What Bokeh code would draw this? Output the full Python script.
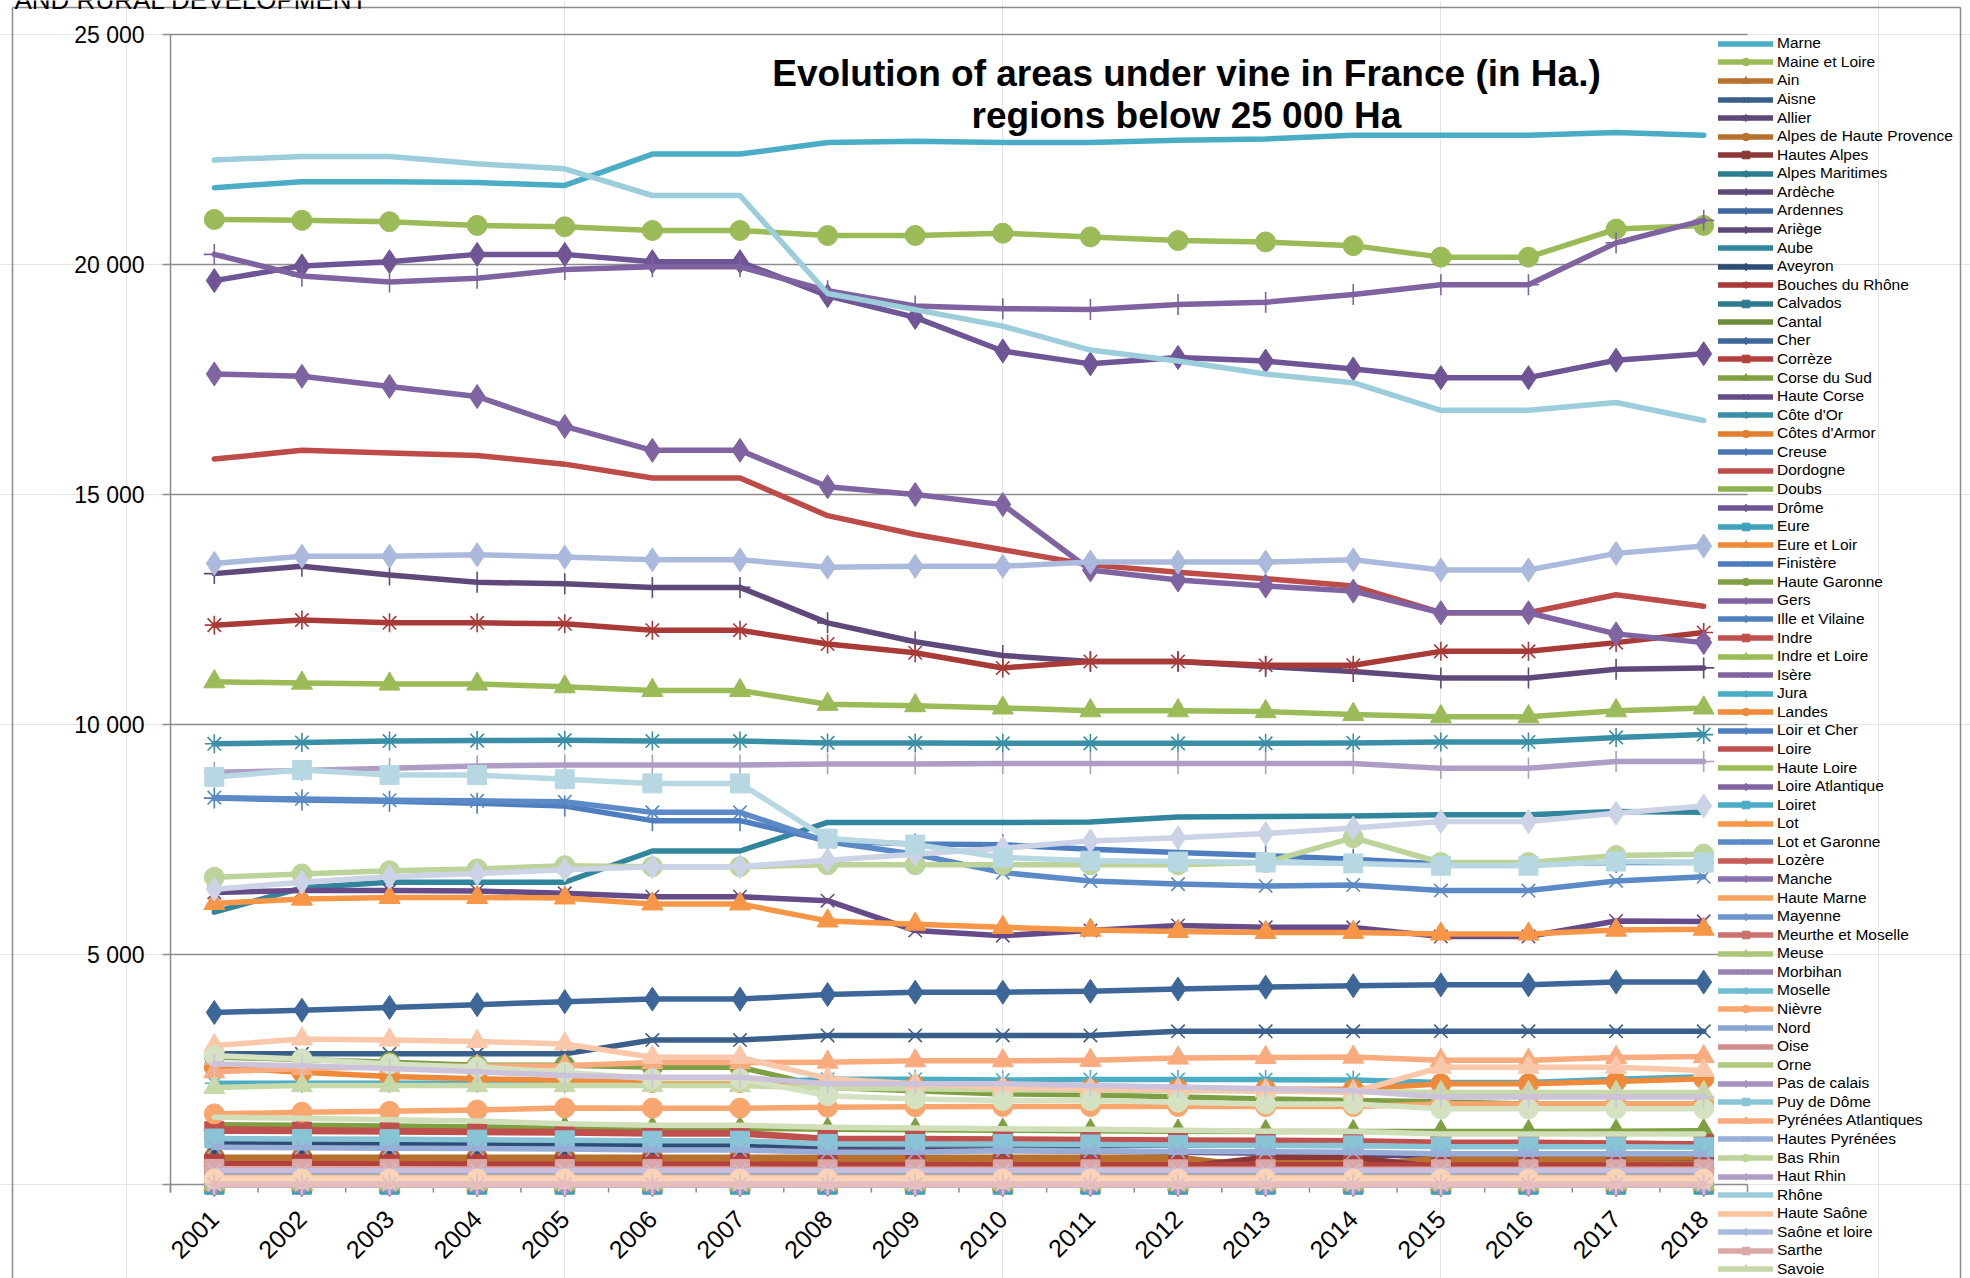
from math import pi
from bokeh.plotting import figure
from bokeh.models import Range1d, Legend, LegendItem, Label
from bokeh.core.properties import value
from bokeh.embed import file_html
from bokeh.resources import INLINE

# ---------------- data ----------------
years = [2001, 2002, 2003, 2004, 2005, 2006, 2007, 2008, 2009, 2010, 2011, 2012, 2013, 2014, 2015, 2016, 2017, 2018]
ytick_values = [0, 5000, 10000, 15000, 20000, 25000]
ytick_labels = ["", "5 000", "10 000", "15 000", "20 000", "25 000"]
title_line1 = "Evolution of areas under vine in France (in Ha.)"
title_line2 = "regions below 25 000 Ha"
header_text = "AND RURAL DEVELOPMENT"

marne = [21670, 21800, 21800, 21780, 21720, 22400, 22400, 22650, 22680, 22650, 22650, 22700, 22730, 22810, 22810, 22810, 22870, 22810]
maine_et_loire = [20980, 20960, 20930, 20850, 20820, 20740, 20740, 20630, 20630, 20680, 20600, 20520, 20490, 20410, 20160, 20160, 20770, 20850]
ain = [520, 515, 510, 505, 500, 500, 500, 495, 495, 490, 490, 490, 485, 485, 480, 480, 480, 480]
aisne = [2840, 2840, 2840, 2840, 2840, 3140, 3140, 3240, 3240, 3240, 3240, 3330, 3330, 3330, 3330, 3330, 3330, 3330]
allier = [900, 890, 880, 870, 860, 850, 850, 760, 740, 740, 730, 700, 680, 660, 600, 600, 590, 580]
alpes_de_haute_provence = [595, 595, 595, 595, 595, 595, 595, 595, 595, 595, 595, 595, 376, 376, 595, 595, 595, 595]
hautes_alpes = [376, 376, 376, 376, 376, 376, 376, 376, 376, 376, 376, 376, 593, 593, 376, 376, 376, 376]
alpes_maritimes = [50, 50, 50, 50, 50, 50, 50, 50, 50, 50, 50, 50, 50, 50, 50, 50, 50, 50]
ardeche = [13280, 13440, 13250, 13090, 13060, 12980, 12980, 12210, 11800, 11500, 11370, 11370, 11260, 11150, 11010, 11010, 11200, 11230]
ardennes = [0, 0, 0, 0, 0, 0, 0, 0, 0, 0, 0, 0, 0, 0, 0, 0, 0, 0]
ariege = [90, 90, 90, 90, 90, 90, 90, 90, 90, 90, 90, 90, 90, 90, 90, 90, 90, 90]
aube = [5920, 6450, 6570, 6570, 6570, 7250, 7250, 7870, 7870, 7870, 7880, 7990, 8000, 8010, 8040, 8040, 8110, 8090]
aveyron = [880, 880, 875, 870, 870, 865, 865, 860, 860, 860, 855, 855, 855, 850, 850, 850, 850, 850]
bouches_du_rhone = [12160, 12270, 12210, 12210, 12190, 12050, 12050, 11750, 11560, 11230, 11370, 11370, 11290, 11290, 11590, 11590, 11780, 12000]
calvados = [0, 0, 0, 0, 0, 0, 0, 0, 0, 0, 0, 0, 0, 0, 0, 0, 0, 0]
cantal = [0, 0, 0, 0, 0, 0, 0, 0, 0, 0, 0, 0, 0, 0, 0, 0, 0, 0]
cher = [3740, 3790, 3850, 3910, 3975, 4030, 4030, 4130, 4180, 4180, 4200, 4250, 4290, 4320, 4340, 4340, 4400, 4400]
correze = [450, 450, 445, 445, 440, 440, 440, 435, 435, 430, 430, 430, 430, 430, 425, 425, 425, 425]
corse_du_sud = [1300, 1290, 1270, 1250, 1230, 1220, 1220, 1200, 1190, 1180, 1170, 1160, 1150, 1150, 1150, 1150, 1160, 1170]
haute_corse = [6350, 6390, 6390, 6380, 6330, 6255, 6255, 6170, 5520, 5410, 5520, 5630, 5590, 5590, 5390, 5390, 5730, 5720]
cote_d_or = [9580, 9610, 9640, 9650, 9660, 9640, 9640, 9600, 9600, 9590, 9590, 9590, 9590, 9600, 9620, 9620, 9720, 9780]
cotes_d_armor = [0, 0, 0, 0, 0, 0, 0, 0, 0, 0, 0, 0, 0, 0, 0, 0, 0, 0]
creuse = [0, 0, 0, 0, 0, 0, 0, 0, 0, 0, 0, 0, 0, 0, 0, 0, 0, 0]
dordogne = [15770, 15960, 15900, 15850, 15660, 15360, 15360, 14540, 14130, 13800, 13470, 13310, 13170, 13010, 12430, 12430, 12820, 12570]
doubs = [20, 20, 20, 20, 20, 20, 20, 20, 20, 20, 20, 20, 20, 20, 20, 20, 20, 20]
drome = [19650, 19970, 20060, 20220, 20220, 20060, 20060, 19320, 18850, 18120, 17840, 17980, 17900, 17730, 17540, 17540, 17920, 18060]
eure = [0, 0, 0, 0, 0, 0, 0, 0, 0, 0, 0, 0, 0, 0, 0, 0, 0, 0]
eure_et_loir = [0, 0, 0, 0, 0, 0, 0, 0, 0, 0, 0, 0, 0, 0, 0, 0, 0, 0]
finistere = [0, 0, 0, 0, 0, 0, 0, 0, 0, 0, 0, 0, 0, 0, 0, 0, 0, 0]
haute_garonne = [2770, 2720, 2660, 2590, 2590, 2550, 2550, 2110, 2040, 1970, 1950, 1900, 1860, 1825, 1800, 1750, 1750, 1750]
gers = [20220, 19750, 19620, 19700, 19890, 19950, 19950, 19430, 19100, 19040, 19020, 19130, 19180, 19350, 19560, 19560, 20470, 20960]
ille_et_vilaine = [0, 0, 0, 0, 0, 0, 0, 0, 0, 0, 0, 0, 0, 0, 0, 0, 0, 0]
indre = [1160, 1150, 1140, 1130, 1120, 1100, 1100, 980, 975, 970, 960, 950, 940, 930, 900, 900, 890, 880]
indre_et_loire = [10930, 10900, 10880, 10880, 10820, 10740, 10740, 10440, 10410, 10360, 10300, 10300, 10280, 10220, 10170, 10170, 10300, 10360]
isere = [240, 240, 235, 235, 230, 230, 230, 225, 225, 225, 220, 220, 220, 220, 215, 215, 215, 215]
jura = [2200, 2200, 2200, 2200, 2200, 2200, 2200, 2290, 2290, 2270, 2280, 2280, 2280, 2270, 2220, 2220, 2290, 2340]
landes = [2550, 2440, 2350, 2300, 2260, 2220, 2220, 2200, 2150, 2080, 2080, 2080, 2070, 2070, 2190, 2190, 2240, 2300]
loir_et_cher = [8400, 8360, 8330, 8290, 8230, 7910, 7910, 7470, 7400, 7385, 7290, 7220, 7150, 7070, 6970, 6970, 7000, 7000]
loire = [1210, 1190, 1175, 1160, 1150, 1130, 1130, 1000, 1000, 990, 980, 970, 960, 950, 920, 920, 900, 880]
haute_loire = [10, 10, 10, 10, 10, 10, 10, 10, 10, 10, 10, 10, 10, 10, 10, 10, 10, 10]
loire_atlantique = [17620, 17570, 17350, 17130, 16480, 15960, 15960, 15170, 15000, 14780, 13360, 13140, 13010, 12900, 12430, 12430, 11970, 11780]
loiret = [180, 180, 180, 180, 180, 180, 180, 180, 180, 180, 180, 180, 180, 180, 180, 180, 180, 180]
lot = [6110, 6205, 6240, 6240, 6230, 6100, 6100, 5730, 5660, 5590, 5530, 5500, 5480, 5480, 5445, 5445, 5530, 5550]
lot_et_garonne = [8410, 8380, 8355, 8340, 8320, 8090, 8090, 7450, 7180, 6780, 6600, 6530, 6490, 6510, 6390, 6390, 6600, 6690]
lozere = [20, 20, 20, 20, 20, 20, 20, 20, 20, 20, 20, 20, 20, 20, 20, 20, 20, 20]
manche = [0, 0, 0, 0, 0, 0, 0, 0, 0, 0, 0, 0, 0, 0, 0, 0, 0, 0]
haute_marne = [50, 50, 50, 50, 50, 50, 50, 50, 50, 50, 50, 50, 50, 50, 50, 50, 50, 50]
mayenne = [0, 0, 0, 0, 0, 0, 0, 0, 0, 0, 0, 0, 0, 0, 0, 0, 0, 0]
meurthe_et_moselle = [110, 110, 110, 110, 110, 110, 110, 110, 110, 110, 110, 110, 110, 110, 110, 110, 110, 110]
meuse = [30, 30, 30, 30, 30, 30, 30, 30, 30, 30, 30, 30, 30, 30, 30, 30, 30, 30]
morbihan = [0, 0, 0, 0, 0, 0, 0, 0, 0, 0, 0, 0, 0, 0, 0, 0, 0, 0]
moselle = [60, 60, 60, 60, 60, 60, 60, 60, 60, 60, 60, 60, 60, 60, 60, 60, 60, 60]
nievre = [1535, 1570, 1590, 1620, 1665, 1660, 1660, 1680, 1690, 1695, 1695, 1695, 1695, 1695, 1750, 1750, 1750, 1750]
nord = [0, 0, 0, 0, 0, 0, 0, 0, 0, 0, 0, 0, 0, 0, 0, 0, 0, 0]
oise = [0, 0, 0, 0, 0, 0, 0, 0, 0, 0, 0, 0, 0, 0, 0, 0, 0, 0]
orne = [0, 0, 0, 0, 0, 0, 0, 0, 0, 0, 0, 0, 0, 0, 0, 0, 0, 0]
pas_de_calais = [0, 0, 0, 0, 0, 0, 0, 0, 0, 0, 0, 0, 0, 0, 0, 0, 0, 0]
puy_de_dome = [1000, 990, 985, 975, 960, 950, 950, 880, 880, 880, 870, 860, 850, 850, 820, 820, 820, 810]
pyrenees_atlantiques = [2450, 2520, 2560, 2570, 2580, 2650, 2650, 2660, 2690, 2690, 2700, 2750, 2760, 2770, 2700, 2700, 2760, 2780]
hautes_pyrenees = [810, 800, 790, 780, 770, 750, 750, 700, 700, 740, 730, 720, 710, 700, 670, 670, 670, 670]
bas_rhin = [6680, 6750, 6820, 6860, 6930, 6910, 6910, 6950, 6950, 6950, 6950, 6950, 7000, 7540, 7000, 7000, 7150, 7180]
haut_rhin = [8960, 9000, 9050, 9100, 9120, 9120, 9120, 9140, 9140, 9150, 9150, 9150, 9150, 9150, 9050, 9050, 9195, 9195]
rhone = [22270, 22350, 22350, 22190, 22080, 21500, 21500, 19370, 19020, 18660, 18140, 17900, 17620, 17430, 16830, 16830, 17000, 16610]
haute_saone = [160, 160, 160, 160, 160, 160, 160, 160, 160, 160, 160, 160, 160, 160, 160, 160, 160, 160]
saone_et_loire = [13500, 13660, 13660, 13690, 13640, 13580, 13580, 13420, 13440, 13440, 13530, 13530, 13530, 13580, 13360, 13360, 13720, 13880]
sarthe = [340, 340, 340, 335, 335, 335, 335, 330, 330, 330, 330, 330, 330, 330, 330, 330, 330, 330]
savoie = [2110, 2150, 2150, 2150, 2150, 2150, 2150, 2100, 2080, 2060, 2050, 2040, 2030, 2020, 2000, 2000, 2000, 2000]
# series whose legend entries fall below the visible part of the legend
haute_savoie = [300, 300, 300, 300, 300, 300, 300, 300, 300, 300, 300, 300, 300, 300, 300, 300, 300, 300]
seine_et_marne = [40, 40, 40, 40, 40, 40, 40, 40, 40, 40, 40, 40, 40, 40, 40, 40, 40, 40]
deux_sevres = [120, 120, 120, 120, 120, 120, 120, 120, 120, 120, 120, 120, 120, 120, 120, 120, 120, 120]
somme = [0, 0, 0, 0, 0, 0, 0, 0, 0, 0, 0, 0, 0, 0, 0, 0, 0, 0]
vosges = [0, 0, 0, 0, 0, 0, 0, 0, 0, 0, 0, 0, 0, 0, 0, 0, 0, 0]
tarn_et_garonne = [1460, 1440, 1410, 1380, 1320, 1290, 1290, 1245, 1230, 1210, 1200, 1180, 1160, 1150, 1100, 1100, 1100, 1100]
yonne = [6420, 6570, 6690, 6760, 6840, 6910, 6910, 7050, 7180, 7310, 7470, 7540, 7630, 7750, 7890, 7890, 8070, 8230]
tarn = [8860, 9010, 8900, 8900, 8810, 8720, 8720, 7520, 7390, 7110, 7040, 7020, 7000, 6980, 6930, 6930, 7020, 7000]
vendee = [3020, 3165, 3140, 3110, 3055, 2765, 2765, 2300, 2190, 2110, 2080, 2060, 2040, 2000, 2550, 2550, 2550, 2480]
haute_vienne = [0, 0, 0, 0, 0, 0, 0, 0, 0, 0, 0, 0, 0, 0, 0, 0, 0, 0]
territoire_de_belfort = [0, 0, 0, 0, 0, 0, 0, 0, 0, 0, 0, 0, 0, 0, 0, 0, 0, 0]
vienne = [2800, 2730, 2620, 2550, 2440, 2300, 2300, 1930, 1860, 1825, 1825, 1790, 1750, 1750, 1645, 1645, 1645, 1645]
essonne = [2620, 2580, 2520, 2450, 2370, 2330, 2330, 2190, 2190, 2190, 2150, 2120, 2080, 2040, 1900, 1900, 1900, 1900]

# (label, values, colour, marker, shown in legend)
table = [
    ("Marne", marne, "#4BACC6", None, True),
    ("Maine et Loire", maine_et_loire, "#9BBB59", "circle", True),
    ("Ain", ain, "#B9712F", "triangle", True),
    ("Aisne", aisne, "#3A5F8B", "x", True),
    ("Allier", allier, "#5F4879", "asterisk", True),
    ("Alpes de Haute Provence", alpes_de_haute_provence, "#B8702F", "circle", True),
    ("Hautes Alpes", hautes_alpes, "#8C3836", "square", True),
    ("Alpes Maritimes", alpes_maritimes, "#2C7C8F", "asterisk", True),
    ("Ardèche", ardeche, "#5F497A", "cross", True),
    ("Ardennes", ardennes, "#3E67A0", "cross", True),
    ("Ariège", ariege, "#5F4879", "diamond", True),
    ("Aube", aube, "#31859C", None, True),
    ("Aveyron", aveyron, "#2C4D75", "diamond", True),
    ("Bouches du Rhône", bouches_du_rhone, "#A83A37", "asterisk", True),
    ("Calvados", calvados, "#2F7B8E", "square", True),
    ("Cantal", cantal, "#6F8C3A", None, True),
    ("Cher", cher, "#3D6699", "diamond", True),
    ("Corrèze", correze, "#B3403D", "square", True),
    ("Corse du Sud", corse_du_sud, "#7EA040", "triangle", True),
    ("Haute Corse", haute_corse, "#654C88", "x", True),
    ("Côte d'Or", cote_d_or, "#3A8FA6", "asterisk", True),
    ("Côtes d'Armor", cotes_d_armor, "#E27F2E", "circle", True),
    ("Creuse", creuse, "#4A77B4", "cross", True),
    ("Dordogne", dordogne, "#BD4B48", None, True),
    ("Doubs", doubs, "#8DB050", None, True),
    ("Drôme", drome, "#6F5496", "diamond", True),
    ("Eure", eure, "#3FA2BA", "square", True),
    ("Eure et Loir", eure_et_loir, "#EE8A3A", "triangle", True),
    ("Finistère", finistere, "#4D7DC0", "x", True),
    ("Haute Garonne", haute_garonne, "#7F9F45", "circle", True),
    ("Gers", gers, "#7F63A1", "cross", True),
    ("Ille et Vilaine", ille_et_vilaine, "#4F81BD", "diamond", True),
    ("Indre", indre, "#C0504D", "square", True),
    ("Indre et Loire", indre_et_loire, "#9BBB59", "triangle", True),
    ("Isère", isere, "#8064A2", "x", True),
    ("Jura", jura, "#4BACC6", "asterisk", True),
    ("Landes", landes, "#EE8A3A", "circle", True),
    ("Loir et Cher", loir_et_cher, "#4F7EC0", "cross", True),
    ("Loire", loire, "#C0504D", None, True),
    ("Haute Loire", haute_loire, "#9BBB59", None, True),
    ("Loire Atlantique", loire_atlantique, "#8064A2", "diamond", True),
    ("Loiret", loiret, "#4BACC6", "square", True),
    ("Lot", lot, "#F79646", "triangle", True),
    ("Lot et Garonne", lot_et_garonne, "#5B8AC6", "x", True),
    ("Lozère", lozere, "#C75B58", "asterisk", True),
    ("Manche", manche, "#8B70AE", "cross", True),
    ("Haute Marne", haute_marne, "#F9A25F", None, True),
    ("Mayenne", mayenne, "#7094CB", "diamond", True),
    ("Meurthe et Moselle", meurthe_et_moselle, "#CC716E", "square", True),
    ("Meuse", meuse, "#AAC677", "triangle", True),
    ("Morbihan", morbihan, "#9882B5", "x", True),
    ("Moselle", moselle, "#70BDD1", "asterisk", True),
    ("Nièvre", nievre, "#F9A66E", "circle", True),
    ("Nord", nord, "#88A4D3", "cross", True),
    ("Oise", oise, "#D08C8A", None, True),
    ("Orne", orne, "#AFC97F", None, True),
    ("Pas de calais", pas_de_calais, "#A692C0", "diamond", True),
    ("Puy de Dôme", puy_de_dome, "#89C4D6", "square", True),
    ("Pyrénées Atlantiques", pyrenees_atlantiques, "#FAAB7E", "triangle", True),
    ("Hautes Pyrénées", hautes_pyrenees, "#97AED8", "x", True),
    ("Bas Rhin", bas_rhin, "#BCD39A", "circle", True),
    ("Haut Rhin", haut_rhin, "#AE9EC6", "cross", True),
    ("Rhône", rhone, "#9CCDDB", None, True),
    ("Haute Saône", haute_saone, "#FBC2A0", None, True),
    ("Saône et loire", saone_et_loire, "#ABBADC", "diamond", True),
    ("Sarthe", sarthe, "#DBA8A7", "square", True),
    ("Savoie", savoie, "#C7D9A9", "triangle", True),
    ("Haute Savoie", haute_savoie, "#C9BEDB", "x", False),
    ("Seine et Marne", seine_et_marne, "#A9D7E3", "asterisk", False),
    ("Deux Sèvres", deux_sevres, "#FBD3B6", "circle", False),
    ("Somme", somme, "#BBCDE6", "cross", False),
    ("Vosges", vosges, "#E7BCBB", None, False),
    ("Tarn et Garonne", tarn_et_garonne, "#D0DFBA", None, False),
    ("Yonne", yonne, "#CDD3E6", "diamond", False),
    ("Tarn", tarn, "#B7D8E2", "square", False),
    ("Vendée", vendee, "#F9C7A9", "triangle", False),
    ("Haute Vienne", haute_vienne, "#BBCDE6", "x", False),
    ("Territoire de Belfort", territoire_de_belfort, "#E7BCBB", "asterisk", False),
    ("Vienne", vienne, "#D5E2C2", "circle", False),
    ("Essonne", essonne, "#CCC2DA", "cross", False),
]

# ---------------- layout (page pixels) ----------------
GREY = "#8C8C8C"
W, H = 1970, 1278
AX_LEFT, AX_TOP, AX_RIGHT, AX_ZERO = 170, 34, 1747, 1184   # plot area of the reference
TICK = 8                                                     # tick length, px
BORDER_L, BORDER_T, BORDER_R = 12, 7, 1960                   # outer chart border
PX_PER_YEAR = (AX_RIGHT - AX_LEFT) / len(years)
PX_PER_UNIT = (AX_ZERO - AX_TOP) / ytick_values[-1]
x_first = years[0] - 0.5


def xd(px):
    """page x pixel -> data x"""
    return x_first + (px - AX_LEFT) / PX_PER_YEAR


def yd(py):
    """page y pixel -> data y"""
    return (AX_ZERO - py) / PX_PER_UNIT


# the frame covers the whole canvas; axes are drawn with the same scales
p = figure(width=W, height=H, output_backend="svg", toolbar_location=None,
           x_range=Range1d(xd(0), xd(W)), y_range=Range1d(yd(H), yd(0)),
           x_axis_location=None, y_axis_location=None,
           min_border_left=0, min_border_right=0, min_border_top=0, min_border_bottom=0)
p.outline_line_color = None
p.background_fill_color = "white"
p.border_fill_color = "white"

n_t = len(ytick_values)
# outer chart border
p.segment(x0=[xd(BORDER_L), xd(BORDER_L), xd(BORDER_R)], y0=[yd(BORDER_T), yd(H + 5), yd(H + 5)],
          x1=[xd(BORDER_R), xd(BORDER_L), xd(BORDER_R)], y1=[yd(BORDER_T), yd(BORDER_T), yd(BORDER_T)],
          line_color=GREY, line_width=1.5)
# horizontal gridlines with their outward ticks (the one at 0 is the category axis line)
p.segment(x0=[xd(AX_LEFT - TICK)] * n_t, y0=ytick_values, x1=[xd(AX_RIGHT)] * n_t, y1=ytick_values,
          line_color=GREY, line_width=1.5)
# value axis line
p.segment(x0=[x_first], y0=[yd(AX_ZERO + TICK)], x1=[x_first], y1=[ytick_values[-1]],
          line_color=GREY, line_width=1.5)
p.text(x=[xd(AX_LEFT - TICK - 18)] * n_t, y=ytick_values, text=ytick_labels,
       text_align="right", text_baseline="middle",
       text_font=value("Liberation Sans"), text_font_size="23px", text_color="black")

# category axis: tick marks between years, slanted year labels
boundaries = [y - 0.5 for y in years] + [years[-1] + 0.5]
p.segment(x0=boundaries, y0=[0] * len(boundaries), x1=boundaries, y1=[yd(AX_ZERO + TICK)] * len(boundaries),
          line_color=GREY, line_width=1.5)
p.text(x=years, y=[yd(AX_ZERO + 30)] * len(years), text=[str(y) for y in years],
       angle=pi / 4, text_align="right", text_baseline="middle",
       text_font=value("Liberation Sans"), text_font_size="25px", text_color="black")

# header text of the page, cut by the top edge as in the reference
p.text(x=[xd(14)], y=[yd(-1)], text=[header_text], text_align="left", text_baseline="alphabetic",
       text_font=value("Liberation Sans"), text_font_size="26px", text_color="black")

SIZES = {"circle": 20, "diamond": 24, "square": 19, "triangle": 21, "x": 19, "asterisk": 19, "cross": 21}
legend_items = []
for label, vals, color, marker, shown in table:
    rends = [p.line(years, vals, line_color=color, line_width=5.5, line_join="round", line_cap="round")]
    if marker in ("x", "asterisk", "cross"):
        rends.append(p.scatter(years, vals, marker=marker, size=SIZES[marker],
                               line_color=color, line_width=1.6, fill_color=None))
    elif marker:
        rends.append(p.scatter(years, vals, marker=marker, size=SIZES[marker],
                               line_color=color, fill_color=color))
    if shown:
        legend_items.append(LegendItem(label=label, renderers=rends))

# legend: one block per entry so that entries follow the reference spacing exactly
ITEM_H = 19
STEP = 18.57
FIRST_CENTER = 43.3
LEG_X = 1718
for i, item in enumerate(legend_items):
    bottom = FIRST_CENTER + i * STEP + ITEM_H / 2
    leg = Legend(items=[item], location=(LEG_X, H - bottom),
                 orientation="vertical", padding=0, margin=0, spacing=0,
                 glyph_width=55, glyph_height=ITEM_H, label_height=ITEM_H, label_standoff=4,
                 label_text_font="Liberation Sans", label_text_font_size="15.5px",
                 label_text_color="black", background_fill_alpha=0, border_line_color=None)
    p.add_layout(leg)

for txt, base in ((title_line1, 73), (title_line2, 115)):
    p.add_layout(Label(x=1186, y=H - base, x_units="screen", y_units="screen",
                       text=txt, text_align="center", text_baseline="alphabetic",
                       text_font="Liberation Sans", text_font_style="bold",
                       text_font_size="37px", text_color="black"))

open("out.html", "w").write(file_html(p, INLINE))
